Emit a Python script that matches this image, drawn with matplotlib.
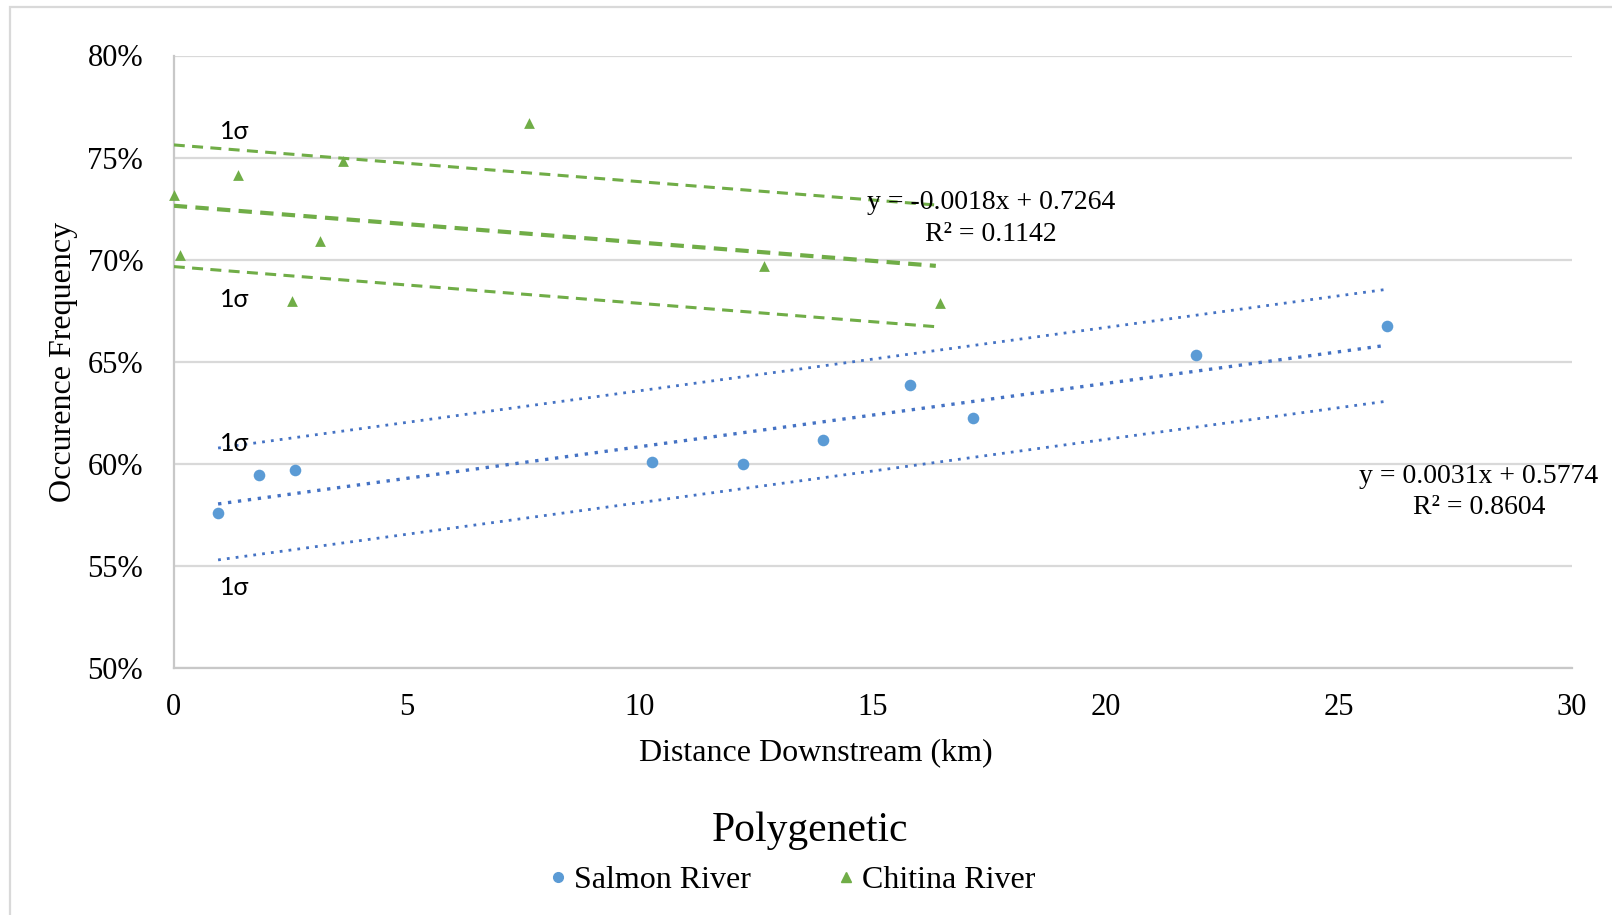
import matplotlib
matplotlib.use("Agg")
import matplotlib.pyplot as plt
from matplotlib.patches import Rectangle
from matplotlib.lines import Line2D
import numpy as np

# ---------------- data ----------------
salmon_x = [0.95, 1.83, 2.60, 10.26, 12.22, 13.92, 15.80, 17.14, 21.93, 26.03]
salmon_y = [0.576, 0.5947, 0.5972, 0.6007, 0.5997, 0.6118, 0.6385, 0.6223, 0.6535, 0.6676]

chitina_x = [0.0, 0.13, 1.37, 2.54, 3.13, 3.62, 7.63, 12.66, 16.43]
chitina_y = [0.7316, 0.7024, 0.7416, 0.6797, 0.7089, 0.7482, 0.7668, 0.6968, 0.6787]

salmon_fit = {"slope": 0.0031, "intercept": 0.5774, "sigma": 0.0274, "x0": 0.95, "x1": 25.97}
chitina_fit = {"slope": -0.0018, "intercept": 0.7264, "sigma": 0.0298, "x0": 0.0, "x1": 16.35}

salmon_eq = ["y = 0.0031x + 0.5774", "R\u00b2 = 0.8604"]
chitina_eq = ["y = -0.0018x + 0.7264", "R\u00b2 = 0.1142"]

x_ticks = [0, 5, 10, 15, 20, 25, 30]
y_ticks = [0.50, 0.55, 0.60, 0.65, 0.70, 0.75, 0.80]
y_tick_labels = ["50%", "55%", "60%", "65%", "70%", "75%", "80%"]

x_label = "Distance Downstream (km)"
y_label = "Occurence Frequency"
legend_title = "Polygenetic"
series_names = ["Salmon River", "Chitina River"]
sigma_label = "1\u03c3"

# ---------------- style ----------------
SERIF = ["Liberation Serif", "DejaVu Serif"]
SANS = ["Lato", "DejaVu Sans"]
BLUE_PT = "#5B9BD5"
BLUE_LN = "#4472C4"
GREEN = "#70AD47"
GRID = "#d9d9d9"

W, H = 1612, 915
fig = plt.figure(figsize=(W / 100, H / 100), dpi=100)
fig.patch.set_facecolor("white")

left, right, top, bottom = 173.8, 1572, 55.5, 668
ax = fig.add_axes([left / W, 1 - bottom / H, (right - left) / W, (bottom - top) / H])

ax.set_xlim(0, 30)
ax.set_ylim(0.50, 0.80)
ax.set_xticks(x_ticks)
ax.set_yticks(y_ticks)
ax.set_yticklabels(y_tick_labels)
ax.tick_params(axis="both", length=0, labelsize=22)
ax.tick_params(axis="y", pad=22)
ax.tick_params(axis="x", pad=18)
for lab in ax.get_xticklabels() + ax.get_yticklabels():
    lab.set_fontfamily(SERIF)

ax.grid(axis="y", color=GRID, lw=1.6)
ax.set_axisbelow(True)
for s in ["top", "right"]:
    ax.spines[s].set_visible(False)
ax.spines["left"].set_color("#c8c8c8")
ax.spines["left"].set_linewidth(1.6)
ax.spines["bottom"].set_color("#c8c8c8")
ax.spines["bottom"].set_linewidth(1.6)

# axis labels (placed in figure pixels)
fig.text(816 / W, 1 - 752.5 / H, x_label, fontsize=23, family=SERIF, ha="center", va="center")
fig.text(63.7 / W, 1 - 362 / H, y_label, fontsize=23, family=SERIF, ha="center", va="center",
         rotation=90)


def trend(fit):
    xs = np.array([fit["x0"], fit["x1"]])
    ys = fit["intercept"] + fit["slope"] * xs
    return xs, ys, fit["sigma"]


# Chitina trend lines
xs, ys, sg = trend(chitina_fit)
ax.plot(xs, ys, color=GREEN, lw=3.0, ls=(0, (3.2, 2.0)), zorder=3)
ax.plot(xs, ys + sg, color=GREEN, lw=2.2, ls=(0, (3.6, 2.4)), zorder=3)
ax.plot(xs, ys - sg, color=GREEN, lw=2.2, ls=(0, (3.6, 2.4)), zorder=3)

# Salmon trend lines
xs, ys, sg = trend(salmon_fit)
ax.plot(xs, ys, color=BLUE_LN, lw=2.4, ls=(0, (1, 2.0)), zorder=3)
ax.plot(xs, ys + sg, color=BLUE_LN, lw=2.0, ls=(0, (1, 2.2)), zorder=3)
ax.plot(xs, ys - sg, color=BLUE_LN, lw=2.0, ls=(0, (1, 2.2)), zorder=3)

# points
ax.scatter(salmon_x, salmon_y, s=70, marker="o", color=BLUE_PT, zorder=4, clip_on=False, linewidths=0)
ax.scatter(chitina_x, chitina_y, s=60, marker="^", color=GREEN, zorder=4, clip_on=False, linewidths=0)

# sigma labels
for yv in [0.7628, 0.6807, 0.6098, 0.5393]:
    ax.text(1.30, yv, sigma_label, fontsize=18, family=SANS, ha="center", va="center", zorder=5)

# equation labels
ax.text(17.53, 0.7281, chitina_eq[0], fontsize=20, family=SERIF, ha="center", va="center", zorder=5)
ax.text(17.53, 0.7125, chitina_eq[1], fontsize=20, family=SERIF, ha="center", va="center", zorder=5)
ax.text(28.0, 0.5936, salmon_eq[0], fontsize=20, family=SERIF, ha="center", va="center", zorder=5, clip_on=False)
ax.text(28.0, 0.5785, salmon_eq[1], fontsize=20, family=SERIF, ha="center", va="center", zorder=5, clip_on=False)

# legend
fig.text(810 / W, 1 - 830.5 / H, legend_title, fontsize=30, family=SERIF, ha="center", va="center")
handles = [
    Line2D([], [], ls="none", marker="o", color=BLUE_PT, markersize=7),
    Line2D([], [], ls="none", marker="^", color=GREEN, markersize=7),
]
leg = fig.legend(handles, series_names, loc="center", bbox_to_anchor=(792 / W, 1 - 880 / H),
                 ncol=2, frameon=False, prop={"family": SERIF, "size": 23},
                 handlelength=0.6, handletextpad=0.18, columnspacing=2.7)

# figure border
fig.patches.append(Rectangle((9.7 / W, -0.05), 1.1, 1 - 7 / H + 0.05, transform=fig.transFigure,
                             fill=False, edgecolor=GRID, lw=1.6, zorder=0))

fig.savefig("out.png", dpi=100, facecolor="white")
